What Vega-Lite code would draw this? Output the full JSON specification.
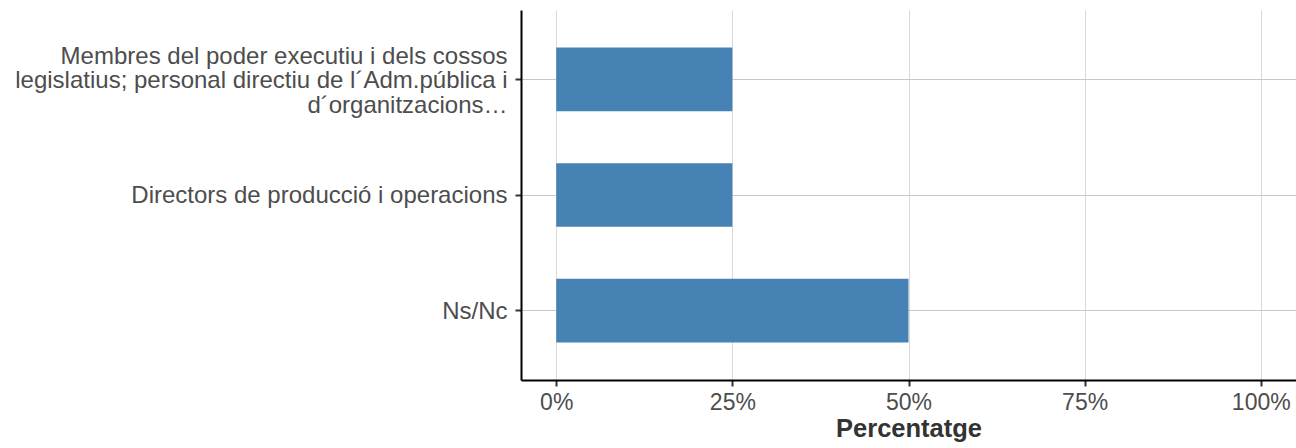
{
  "$schema": "https://vega.github.io/schema/vega-lite/v6.json",
  "autosize": "none",
  "width": 775,
  "height": 370,
  "padding": {"left": 521, "top": 10, "right": 0, "bottom": 68},
  "background": "white",
  "config": {
    "view": {"stroke": null},
    "font": "Liberation Sans"
  },
  "data": {
    "values": [
      {"categoria": "Membres del poder executiu i dels cossos legislatius; personal directiu de l´Adm.pública i d´organitzacions…", "pct": 25},
      {"categoria": "Directors de producció i operacions", "pct": 25},
      {"categoria": "Ns/Nc", "pct": 50}
    ]
  },
  "mark": {"type": "bar", "color": "#4682b4"},
  "encoding": {
    "y": {
      "field": "categoria",
      "type": "nominal",
      "sort": null,
      "scale": {"paddingInner": 0.45, "paddingOuter": 0.325},
      "axis": {
        "title": null,
        "domainColor": "#000000",
        "domainWidth": 2,
        "tickColor": "#333333",
        "tickWidth": 2,
        "tickSize": 6,
        "labelPadding": 8,
        "labelFontSize": 24,
        "labelColor": "#4d4d4d",
        "labelLimit": 700,
        "labelLineHeight": 24.5,
        "labelOffset": {"condition": {"test": "indexof(datum.value, 'Membres') == 0", "value": -22.5}, "value": 1},
        "labelExpr": "indexof(datum.value, 'Membres') == 0 ? ['Membres del poder executiu i dels cossos', 'legislatius; personal directiu de l´Adm.pública i', 'd´organitzacions…'] : datum.label",
        "grid": true,
        "gridColor": "#c8c8c8",
        "gridWidth": 1
      }
    },
    "x": {
      "field": "pct",
      "type": "quantitative",
      "scale": {"domain": [-5, 105], "nice": false, "zero": false},
      "axis": {
        "title": "Percentatge",
        "titleFontSize": 25.5,
        "titleFontWeight": "bold",
        "titleColor": "#333333",
        "titlePadding": 2,
        "values": [0, 25, 50, 75, 100],
        "labelExpr": "datum.value + '%'",
        "labelFontSize": 23,
        "labelColor": "#4d4d4d",
        "labelPadding": 5,
        "domainColor": "#000000",
        "domainWidth": 2,
        "tickColor": "#333333",
        "tickWidth": 2,
        "tickSize": 6,
        "grid": true,
        "gridColor": "#d9d9d9",
        "gridWidth": 1
      }
    }
  }
}
